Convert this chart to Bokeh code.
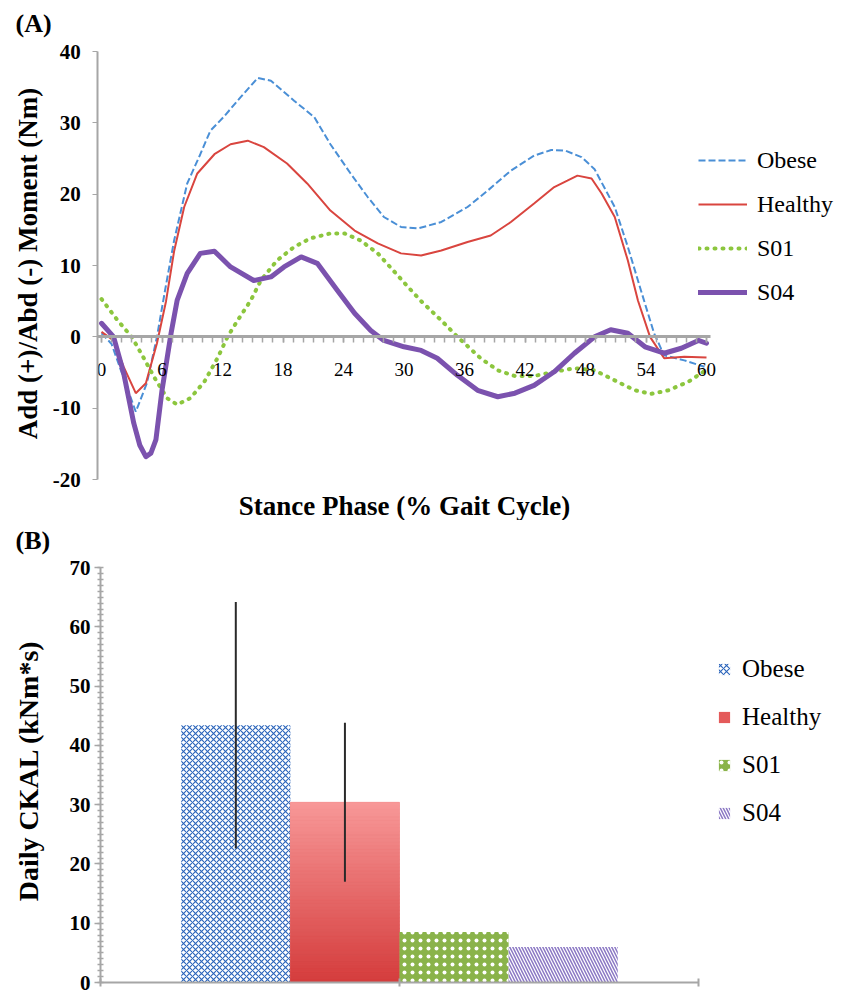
import numpy as np
from bokeh.plotting import figure
from bokeh.models import Range1d, FixedTicker, Legend, LegendItem, Label
from bokeh.layouts import column
from bokeh.embed import file_html
from bokeh.resources import INLINE

FONT = "Liberation Serif"

# ---------------- Panel A data (stance phase, % gait cycle) ----------------
series_names = ["Obese", "Healthy", "S01", "S04"]

obese_x = [0, 1.0, 2.0, 3.4, 4.5, 5.5, 6.3, 7.2, 8.5, 9.8, 10.8, 12.1, 13.8, 15.5, 16.8, 19.1, 21.1, 22.7,
           24.7, 26.4, 28.0, 29.7, 31.4, 33.7, 36.3, 38.3, 40.6, 42.9, 44.6, 46.0, 47.6, 48.9, 50.9, 52.2,
           53.5, 54.8, 55.8, 57.8, 59.8]
obese_y = [0.5, -1.0, -5.0, -10.5, -6.5, 0.0, 6.5, 13.5, 21.5, 25.6, 28.9, 30.8, 33.6, 36.3, 35.9, 33.1, 30.8,
           27.0, 22.9, 19.6, 16.8, 15.4, 15.2, 16.1, 18.2, 20.5, 23.3, 25.4, 26.2, 26.1, 25.2, 23.5, 18.2,
           12.6, 6.5, 0.5, -2.6, -3.3, -4.2]

healthy_x = [0, 1.2, 2.2, 3.4, 4.4, 5.5, 6.4, 7.2, 8.2, 9.5, 11.2, 12.8, 14.5, 16.1, 18.4, 20.4, 22.7, 25.1,
             27.4, 29.7, 31.7, 33.7, 36.3, 38.6, 40.6, 42.9, 44.9, 46.2, 47.2, 48.6, 49.6, 50.9, 52.2, 53.2,
             54.4, 55.8, 57.8, 60]
healthy_y = [0.7, -0.5, -4.2, -7.9, -6.5, -0.9, 5.0, 12.0, 18.2, 22.9, 25.6, 27.0, 27.5, 26.6, 24.3, 21.5,
             17.7, 14.9, 13.1, 11.7, 11.4, 12.1, 13.3, 14.2, 16.1, 18.7, 21.0, 21.9, 22.6, 22.2, 20.1, 16.8,
             10.7, 5.1, 0.0, -3.0, -2.8, -2.9]

s01_x = [0, 1.6, 3.0, 4.2, 5.2, 6.5, 7.5, 8.8, 10.2, 11.5, 12.5, 13.5, 14.8, 15.8, 17.4, 19.1, 20.7, 22.7,
         24.1, 25.7, 27.4, 29.0, 30.4, 31.7, 33.7, 35.3, 37.6, 39.3, 41.0, 42.9, 44.9, 46.9, 48.9, 50.9,
         52.9, 54.5, 56.2, 58.2, 59.7]
s01_y = [5.3, 2.3, 0.0, -3.0, -5.6, -8.6, -9.5, -8.6, -6.3, -3.0, 0.0, 2.3, 5.1, 7.9, 10.7, 12.6, 13.8, 14.5,
         14.5, 13.5, 11.7, 9.2, 7.0, 5.0, 2.3, 0.0, -3.0, -4.7, -5.5, -5.5, -4.9, -4.4, -4.7, -6.1, -7.5,
         -8.0, -7.5, -6.3, -4.9]

s04_x = [0, 1.2, 2.2, 3.2, 3.8, 4.4, 4.9, 5.4, 6.0, 6.9, 7.5, 8.5, 9.8, 11.2, 12.8, 15.1, 16.8, 18.1, 19.8,
         21.4, 23.4, 25.1, 26.7, 28.0, 30.0, 31.7, 33.3, 35.3, 37.3, 39.3, 41.0, 42.9, 44.9, 46.9, 48.9,
         50.5, 52.2, 53.9, 55.8, 57.5, 59.2, 60]
s04_y = [1.9, 0.0, -5.1, -12.1, -15.2, -16.8, -16.3, -14.4, -7.5, 0.5, 5.1, 8.9, 11.7, 12.0, 9.8, 7.9, 8.4,
         9.8, 11.2, 10.3, 6.5, 3.3, 0.9, -0.5, -1.4, -1.9, -3.0, -5.4, -7.5, -8.4, -7.9, -6.8, -4.9, -2.3,
         0.0, 1.0, 0.5, -1.4, -2.3, -1.6, -0.5, -0.9]

x_ticks_A = [0, 6, 12, 18, 24, 30, 36, 42, 48, 54, 60]
x_minor_A = list(range(0, 61))
y_ticks_A = [-20, -10, 0, 10, 20, 30, 40]
y_labels_A = {-20: "-20", -10: "-10"}

# ---------------- Panel B data ----------------
groups = ["Obese", "Healthy", "S01", "S04"]
ckal = [43.4, 30.4, 8.5, 6.0]
ckal_sd = [20.8, 13.4, 0.0, 0.0]
y_ticks_B = [0, 10, 20, 30, 40, 50, 60, 70]
y_minor_B = list(range(0, 71))

AXIS_GRAY = "#a6a6a6"
FIG_W = 840


def make_map(px_a, val_a, px_b, val_b):
    """linear map pixel -> data value through two anchor points"""
    k = (val_b - val_a) / (px_b - px_a)
    return lambda p: val_a + (p - px_a) * k


def styled_fig(h, fx, fy):
    p = figure(width=FIG_W, height=h, output_backend="svg", toolbar_location=None, title=None,
               x_range=Range1d(fx(0), fx(FIG_W)), y_range=Range1d(fy(h), fy(0)), min_border=0)
    p.outline_line_color = None
    p.grid.visible = False
    p.border_fill_color = "white"
    return p


def txt(p, x, y, text, size, bold=True, angle=0.0, align="left"):
    p.add_layout(Label(x=x, y=y, text=text, text_font=FONT, text_font_size=size,
                       text_font_style="bold" if bold else "normal", text_color="black",
                       text_align=align, text_baseline="middle", angle=angle))


# ================= Panel A =================
HA = 520
fxA = make_map(101, 0, 706, 60)      # pixel column of x = 0 and x = 60
fyA = make_map(51, 40, 479, -20)     # pixel row of y = 40 and y = -20
pA = styled_fig(HA, fxA, fyA)

xa = pA.xaxis[0]
xa.fixed_location = 0
xa.bounds = (fxA(97.3), 60.4)
xa.ticker = FixedTicker(ticks=x_ticks_A, minor_ticks=x_minor_A)
xa.axis_line_color = AXIS_GRAY
xa.axis_line_width = 3
xa.major_tick_out = 6
xa.major_tick_in = 0
xa.minor_tick_out = 6
xa.minor_tick_in = 0
xa.major_tick_line_color = AXIS_GRAY
xa.minor_tick_line_color = AXIS_GRAY
xa.major_tick_line_width = 1.5
xa.minor_tick_line_width = 1.5
xa.major_label_text_font = FONT
xa.major_label_text_font_size = "19px"
xa.major_label_text_color = "black"
xa.major_label_standoff = 20

ya = pA.yaxis[0]
ya.fixed_location = fxA(97.3)
ya.bounds = (-20, 40)
ya.ticker = FixedTicker(ticks=y_ticks_A)
ya.major_label_overrides = y_labels_A
ya.axis_line_color = AXIS_GRAY
ya.axis_line_width = 2
ya.major_tick_out = 5
ya.major_tick_in = 0
ya.major_tick_line_color = AXIS_GRAY
ya.minor_tick_line_color = None
ya.major_label_text_font = FONT
ya.major_label_text_font_size = "21px"
ya.major_label_text_font_style = "bold"
ya.major_label_text_color = "black"
ya.major_label_standoff = 12

txt(pA, fxA(15), fyA(23), "(A)", "26px")
txt(pA, fxA(404), fyA(505), "Stance Phase (% Gait Cycle)", "27px", align="center")
txt(pA, fxA(27), fyA(263), "Add (+)/Abd (-) Moment (Nm)", "27px", angle=np.pi / 2, align="center")

rO = pA.line(obese_x, obese_y, line_color="#4a8fd6", line_width=2, line_dash="7 3")
rH = pA.line(healthy_x, healthy_y, line_color="#d9453f", line_width=2)
rS1 = pA.line(s01_x, s01_y, line_color="#8cc63e", line_width=4, line_dash="1 7", line_cap="round")
rS4 = pA.line(s04_x, s04_y, line_color="#7b52ae", line_width=5, line_join="round", line_cap="round")

legA = Legend(items=[LegendItem(label=n, renderers=[r]) for n, r in zip(series_names, [rO, rH, rS1, rS4])],
              location=(698, HA - 307), orientation="vertical", padding=0, margin=0, spacing=14,
              glyph_width=49, glyph_height=30, label_height=30, label_standoff=10,
              label_text_font=FONT, label_text_font_size="24px", label_text_color="black",
              border_line_color=None, background_fill_alpha=0)
pA.add_layout(legA, "center")

# ================= Panel B =================
HB = 473
fxB = make_map(100, 0, 698, 2)       # pixel column of the axis start / end
fyB = make_map(47, 70, 462, 0)       # pixel row of y = 70 and y = 0
pB = styled_fig(HB, fxB, fyB)

xb = pB.xaxis[0]
xb.fixed_location = 0
xb.bounds = (0, 2)
xb.ticker = FixedTicker(ticks=[0, 1, 2])
xb.major_label_overrides = {0: " ", 1: " ", 2: " "}
xb.axis_line_color = AXIS_GRAY
xb.axis_line_width = 2
xb.major_tick_in = 4
xb.major_tick_out = 4
xb.major_tick_line_color = AXIS_GRAY
xb.major_tick_line_width = 2
xb.minor_tick_line_color = None

yb = pB.yaxis[0]
yb.fixed_location = 0
yb.bounds = (0, 70)
yb.ticker = FixedTicker(ticks=y_ticks_B, minor_ticks=y_minor_B)
yb.axis_line_color = AXIS_GRAY
yb.axis_line_width = 2
yb.major_tick_out = 6
yb.major_tick_in = 0
yb.minor_tick_out = 3
yb.minor_tick_in = 3
yb.major_tick_line_color = AXIS_GRAY
yb.minor_tick_line_color = AXIS_GRAY
yb.major_tick_line_width = 1.5
yb.minor_tick_line_width = 1.5
yb.major_label_text_font = FONT
yb.major_label_text_font_size = "21px"
yb.major_label_text_font_style = "bold"
yb.major_label_text_color = "black"
yb.major_label_standoff = 4

txt(pB, fxB(15), fyB(20), "(B)", "26px")
txt(pB, fxB(28), fyB(250), "Daily CKAL (kNm*s)", "28px", angle=np.pi / 2, align="center")

bar_w = 0.365
xpos = [1 + (i - 1.5) * bar_w for i in range(len(groups))]

r_ob = pB.vbar(x=[xpos[0]], top=[ckal[0]], width=bar_w, fill_color="white", line_color=None,
               hatch_pattern="diagonal_cross", hatch_color="#2a64bb", hatch_scale=6, hatch_weight=1.1)

r_he = pB.vbar(x=[xpos[1]], top=[ckal[1]], width=bar_w, fill_color="#e45a5a", line_color=None)
# vertical gradient over the Healthy bar
n_sl = 50
edges = np.linspace(0, ckal[1], n_sl + 1)
t = (edges[:-1] + edges[1:]) / 2 / ckal[1]
c_bot = np.array([0xd4, 0x3c, 0x3c])
c_top = np.array([0xf8, 0x98, 0x98])
cols = ["#%02x%02x%02x" % tuple(int(round(v)) for v in (c_bot + (c_top - c_bot) * tt)) for tt in t]
pB.vbar(x=[xpos[1]] * n_sl, bottom=edges[:-1], top=edges[1:], width=bar_w,
        fill_color=cols, line_color=cols, line_width=0.6)

r_s1 = pB.vbar(x=[xpos[2]], top=[ckal[2]], width=bar_w, fill_color="#8ab34a", line_color=None,
               hatch_pattern="dot", hatch_color="white", hatch_scale=8, hatch_weight=1.5)
r_s4 = pB.vbar(x=[xpos[3]], top=[ckal[3]], width=bar_w, fill_color="white", line_color=None,
               hatch_pattern="left_diagonal_line", hatch_color="#8b78c4", hatch_scale=6, hatch_weight=1.5)

err_x = [xpos[i] for i in range(2)]
pB.segment(x0=err_x, x1=err_x, y0=[ckal[i] - ckal_sd[i] for i in range(2)],
           y1=[ckal[i] + ckal_sd[i] for i in range(2)], line_color="#2a2a2a", line_width=2)

legB = Legend(items=[LegendItem(label=n, renderers=[r]) for n, r in zip(groups, [r_ob, r_he, r_s1, r_s4])],
              location=(717, HB - 308), orientation="vertical", padding=0, margin=0, spacing=18,
              glyph_width=14, glyph_height=14, label_height=30, label_standoff=11,
              label_text_font=FONT, label_text_font_size="25px", label_text_color="black",
              border_line_color=None, background_fill_alpha=0)
pB.add_layout(legB, "center")

layout = column(pA, pB)
open("out.html", "w").write(file_html(layout, INLINE))
